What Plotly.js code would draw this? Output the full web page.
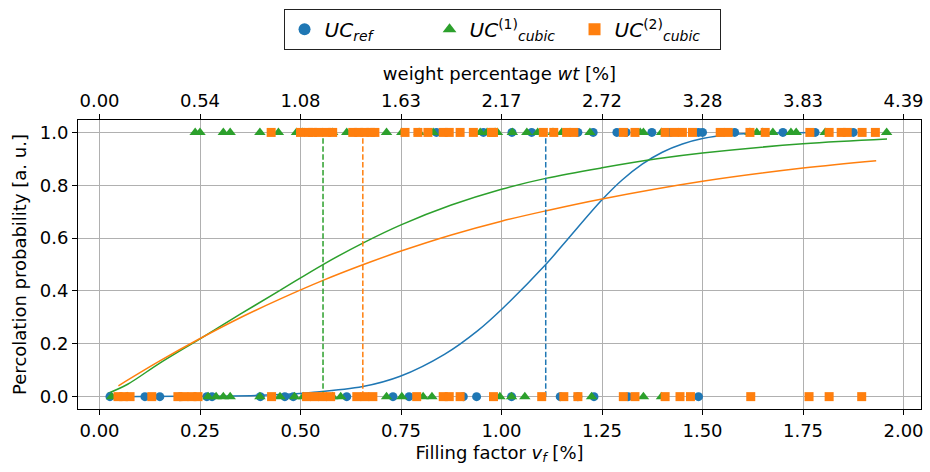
<!DOCTYPE html>
<html>
<head>
<meta charset="utf-8">
<script src="https://cdn.plot.ly/plotly-3.0.1.min.js"></script>
<style>html,body{margin:0;padding:0;background:#fff;}#chart{width:930px;height:472px;}</style>
</head>
<body>
<div id="chart"></div>
<script>
// ---- data ----
const refOnes   = [0.838, 0.955, 1.026, 1.075, 1.19, 1.228, 1.287, 1.31, 1.374, 1.42, 1.49, 1.50, 1.58, 1.70, 1.78, 1.875];
const refZeros  = [0.026, 0.113, 0.15, 0.20, 0.267, 0.28, 0.40, 0.461, 0.482, 0.615, 0.73, 0.77, 0.905, 0.938, 1.025, 1.146, 1.19, 1.23, 1.315, 1.49];
const cub1Ones  = [0.238, 0.25, 0.308, 0.325, 0.399, 0.445, 0.49, 0.505, 0.58, 0.615, 0.714, 0.752, 0.795, 0.83, 0.947, 0.964, 0.984, 0.99, 1.027, 1.063, 1.09, 1.128, 1.15, 1.22, 1.345, 1.353, 1.398, 1.618, 1.635, 1.65, 1.675, 1.72, 1.733, 1.805, 1.958];
const cub1Zeros = [0.03, 0.07, 0.27, 0.29, 0.308, 0.325, 0.399, 0.449, 0.485, 0.507, 0.58, 0.60, 0.714, 0.752, 0.805, 0.827, 0.996, 1.025, 1.058, 1.224, 1.353, 1.398];
const cub2Ones  = [0.427, 0.50, 0.52, 0.53, 0.545, 0.565, 0.58, 0.63, 0.645, 0.66, 0.675, 0.685, 0.76, 0.792, 0.817, 0.855, 0.87, 0.897, 0.93, 0.975, 0.98, 1.104, 1.13, 1.162, 1.18, 1.303, 1.332, 1.407, 1.43, 1.45, 1.475, 1.544, 1.564, 1.618, 1.656, 1.767, 1.815, 1.845, 1.86, 1.897, 1.93];
const cub2Zeros = [0.046, 0.06, 0.076, 0.13, 0.195, 0.21, 0.23, 0.245, 0.428, 0.515, 0.535, 0.555, 0.575, 0.64, 0.66, 0.68, 0.789, 0.855, 0.87, 0.897, 0.98, 1.10, 1.155, 1.19, 1.303, 1.332, 1.407, 1.444, 1.47, 1.62, 1.765, 1.815, 1.896];

const refCurveX  = [0.019, 0.2, 0.4, 0.527, 0.655, 0.748, 0.858, 0.941, 1.0, 1.11, 1.163, 1.25, 1.3, 1.35, 1.4, 1.45, 1.5, 1.577, 1.65, 1.78];
const refCurveY  = [0.0, 0.001, 0.005, 0.016, 0.038, 0.077, 0.16, 0.25, 0.33, 0.5, 0.593, 0.745, 0.82, 0.88, 0.925, 0.956, 0.977, 0.992, 0.997, 1.0];
const cub1CurveX = [0.02, 0.07, 0.15, 0.25, 0.35, 0.45, 0.556, 0.655, 0.75, 0.875, 1.0, 1.11, 1.25, 1.387, 1.5, 1.75, 1.959];
const cub1CurveY = [0.012, 0.047, 0.127, 0.219, 0.312, 0.403, 0.5, 0.581, 0.65, 0.725, 0.785, 0.826, 0.866, 0.90, 0.922, 0.957, 0.975];
const cub2CurveX = [0.047, 0.15, 0.249, 0.36, 0.45, 0.556, 0.655, 0.75, 0.875, 1.0, 1.11, 1.25, 1.5, 1.75, 1.932];
const cub2CurveY = [0.041, 0.135, 0.219, 0.306, 0.37, 0.44, 0.499, 0.551, 0.612, 0.664, 0.703, 0.748, 0.815, 0.865, 0.893];

const thresholds = [1.11, 0.556, 0.655];   // 50 % points: ref, cubic(1), cubic(2)
const xTicks  = [0, 0.25, 0.5, 0.75, 1.0, 1.25, 1.5, 1.75, 2.0];
const wtTicks = ["0.00", "0.54", "1.08", "1.63", "2.17", "2.72", "3.28", "3.83", "4.39"];
const yTicks  = [0, 0.2, 0.4, 0.6, 0.8, 1.0];

const names = ["<i>UC<sub>ref</sub></i>", "<i>UC</i><sup>(1)</sup><sub><i>cubic</i></sub>", "<i>UC</i><sup>(2)</sup><sub><i>cubic</i></sub>"];
const colors = ["#1f77b4", "#2ca02c", "#ff7f0e"];
const symbols = ["circle", "triangle-up", "square"];
const sizes = [9, 10, 9];

const ones  = [refOnes, cub1Ones, cub2Ones];
const zeros = [refZeros, cub1Zeros, cub2Zeros];
const cx = [refCurveX, cub1CurveX, cub2CurveX];
const cy = [refCurveY, cub1CurveY, cub2CurveY];

const traces = [];
for (let i = 0; i < 3; i++) {
  traces.push({x: cx[i], y: cy[i], mode: "lines", type: "scatter", line: {color: colors[i], width: 1.5, shape: "spline", smoothing: 1}, showlegend: false, hoverinfo: "skip"});
}
for (let i = 0; i < 3; i++) {
  traces.push({x: [thresholds[i], thresholds[i]], y: [0, 1], mode: "lines", type: "scatter", line: {color: colors[i], width: 1.5, dash: "5.5px,2.4px"}, showlegend: false, hoverinfo: "skip"});
}
for (let i = 0; i < 3; i++) {
  const xs = ones[i].concat(zeros[i]);
  const ys = ones[i].map(() => 1).concat(zeros[i].map(() => 0));
  traces.push({x: xs, y: ys, mode: "markers", type: "scatter", name: names[i],
    marker: {color: colors[i], symbol: symbols[i], size: sizes[i], line: {width: 0}}});
}
traces.push({x: xTicks, y: xTicks.map(() => null), xaxis: "x2", mode: "markers", showlegend: false, hoverinfo: "skip"});

const font = {family: "DejaVu Sans, sans-serif", size: 18, color: "#000"};
const layout = {
  width: 930, height: 472,
  margin: {l: 78, r: 9, t: 112, b: 63},
  paper_bgcolor: "#fff", plot_bgcolor: "#fff",
  font: font,
  showlegend: true,
  legend: {orientation: "h", x: 0.503, xanchor: "center", y: 1.385, yanchor: "top",
    bordercolor: "#222", borderwidth: 1, bgcolor: "#fff", font: {family: "DejaVu Sans, sans-serif", size: 20}, entrywidth: 100, itemsizing: "constant"},
  xaxis: {range: [-0.0535, 2.0435], tickvals: xTicks, tickformat: ".2f", showgrid: true, gridcolor: "#b0b0b0", gridwidth: 1,
    showline: true, linecolor: "#000", linewidth: 1, mirror: true, ticks: "outside", ticklen: 5, tickcolor: "#000",
    zeroline: false, title: {text: "Filling factor <i>v<sub>f</sub></i> [%]", font: font, standoff: 6}},
  xaxis2: {range: [-0.0535, 2.0435], overlaying: "x", side: "top", anchor: "y", tickvals: xTicks, ticktext: wtTicks,
    showgrid: false, ticks: "outside", ticklen: 5, tickcolor: "#000", zeroline: false,
    title: {text: "weight percentage <i>wt</i> [%]", font: font, standoff: 4}},
  yaxis: {range: [-0.0468, 1.047], tickvals: yTicks, tickformat: ".1f", showgrid: true, gridcolor: "#b0b0b0", gridwidth: 1,
    showline: true, linecolor: "#000", linewidth: 1, mirror: true, ticks: "outside", ticklen: 5, tickcolor: "#000",
    zeroline: false, title: {text: "Percolation probability [a. u.]", font: font, standoff: 8}}
};
Plotly.newPlot("chart", traces, layout, {displayModeBar: false, staticPlot: true});
</script>
</body>
</html>
